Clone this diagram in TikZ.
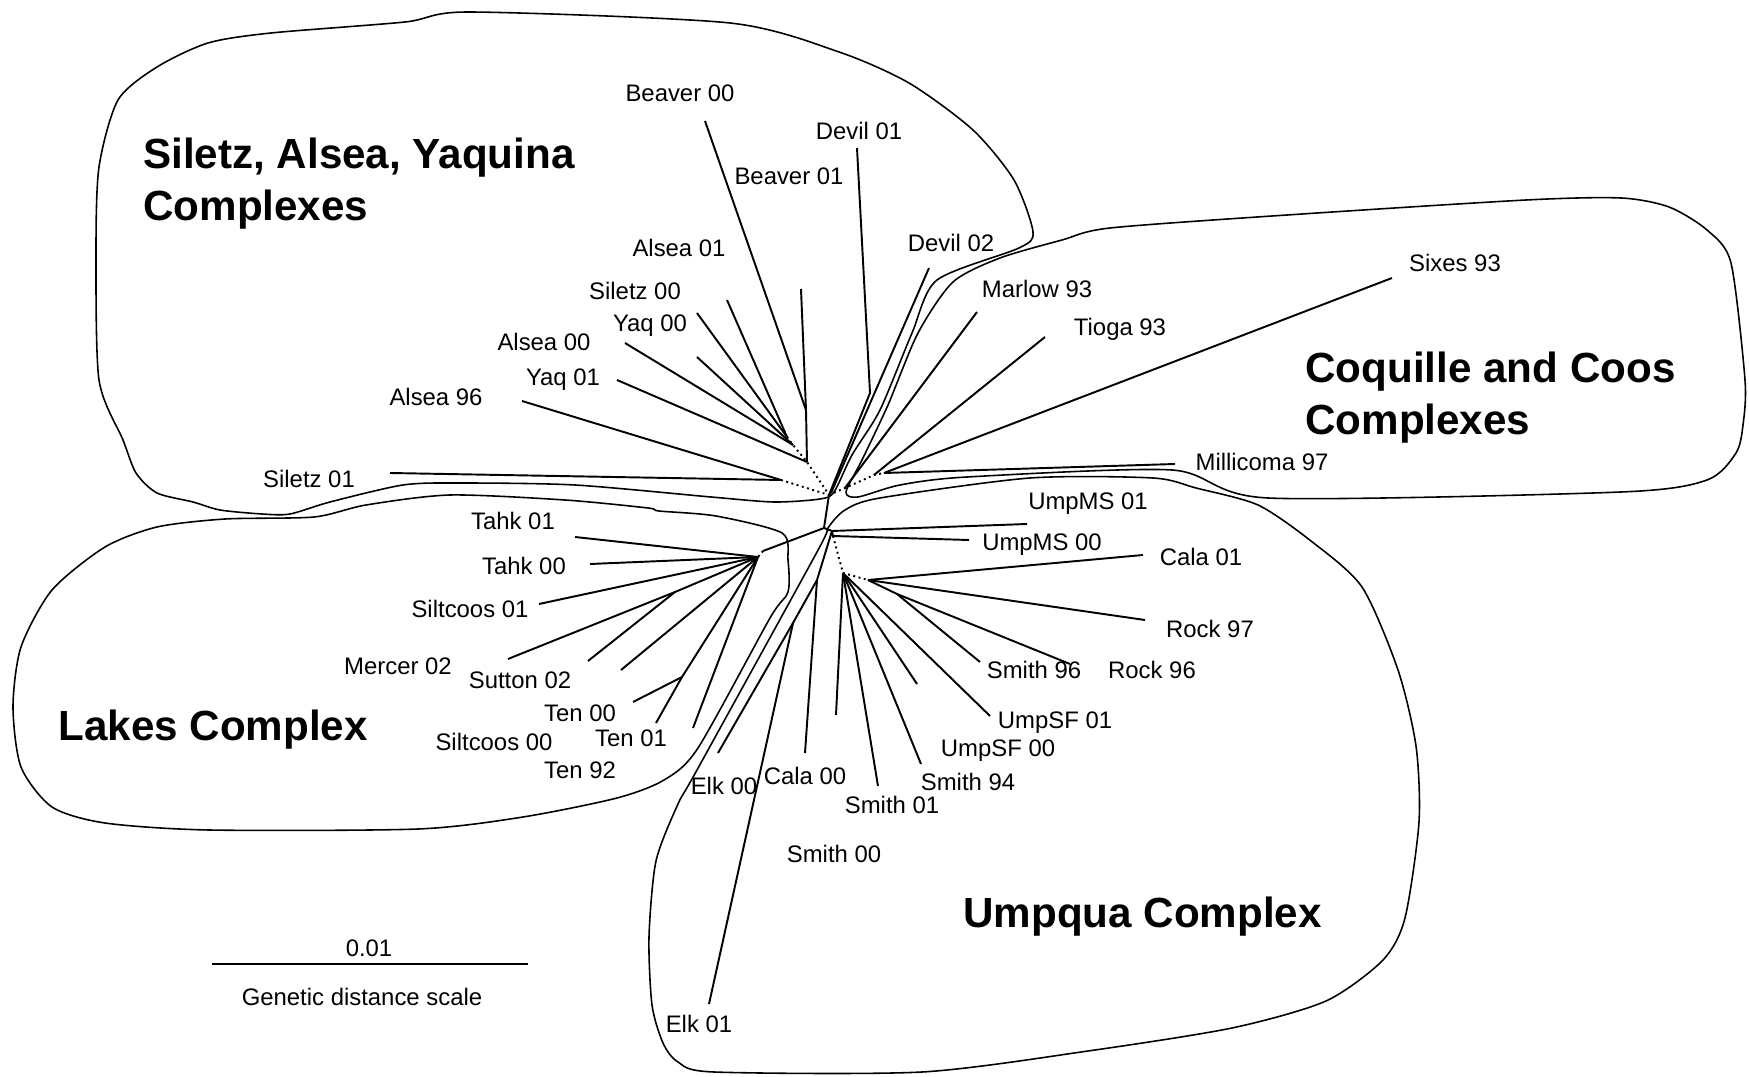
\documentclass[tikz,border=0pt]{standalone}
\usepackage{fontspec}
\setmainfont{Liberation Sans}
\usetikzlibrary{positioning}

\begin{document}
\begin{tikzpicture}[x=0.02cm, y=-0.02cm]

	\tikzstyle{lbl}=[inner sep=0, text depth=0pt, font=\fontsize{13.6}{16}\selectfont];
	\tikzstyle{ttl}=[inner sep=0, anchor=west, align=left, font=\fontsize{24}{29.5}\selectfont\bfseries];
	\tikzstyle{brn}=[line width=1.1pt, line join=round];
	\tikzstyle{hid}=[line width=1.1pt, dotted];
	\tikzstyle{cpx}=[line width=0.9pt, line join=round];

	\useasboundingbox (0,0) rectangle (1749,1077);

	% complex outlines
	\draw [cpx] plot [smooth cycle, tension=0.45] coordinates {(834,492) (852,455) (880,410) (912,333) (937,280) (1019,248) (1033,232) (1014,180) (973,130) (909,83) (839,52) (730,23) (470,12) (405,22) (271,33) (208,43) (157,67) (118,100) (99,167) (96,253) (99,380) (123,440) (136,473) (157,493) (193,502) (220,510) (262,514) (290,514) (330,502) (403,485) (460,483) (575,485) (711,497) (774,502) (820,499)};
	\draw [cpx] plot [smooth cycle, tension=0.45] coordinates {(846,492) (862,460) (888,405) (918,333) (953,282) (1000,258) (1062,240) (1110,228) (1287,215) (1526,200) (1621,198) (1669,207) (1707,230) (1731,263) (1745,380) (1743,425) (1736,453) (1707,480) (1621,492) (1268,498) (1172,470) (967,477) (900,485) (858,497)};
	\draw [cpx] plot [smooth cycle, tension=0.45] coordinates {(828,528) (845,510) (880,498) (1030,478) (1153,478) (1196,488) (1258,505) (1311,541) (1362,587) (1398,670) (1416,746) (1419,822) (1405,918) (1383,960) (1326,1001) (1232,1028) (1088,1051) (922,1072) (714,1072) (678,1062) (663,1043) (652,1005) (649,937) (656,861) (678,804) (697,770) (817,552)};
	\draw [cpx] plot [smooth cycle, tension=0.45] coordinates {(782,533) (788,560) (788,592) (770,618) (698,748) (664,780) (617,798) (523,817) (418,829) (209,830) (105,823) (52,807) (21,767) (13,707) (21,647) (52,590) (105,547) (157,527) (225,519) (314,517) (366,505) (450,495) (565,500) (648,508) (659,511) (716,516)};

	\node (sil title) [ttl] at (143,184) {Siletz, Alsea, Yaquina\\Complexes};
	\node (coq title) [ttl] at (1305,398) {Coquille and Coos\\Complexes};
	\node (lak title) [ttl] at (58,730) {Lakes Complex};
	\node (ump title) [ttl] at (963,917) {Umpqua Complex};

	% inner nodes of the tree
	\coordinate (hub) at (829,495);
	\coordinate (sil a) at (787,437);
	\coordinate (sil a2) at (793,445);
	\coordinate (sil b) at (807,462);
	\coordinate (sil bv) at (806,410);
	\coordinate (sil c) at (781,480);
	\coordinate (dev bend) at (870,393);
	\coordinate (dev root) at (831,493);
	\coordinate (coq m) at (845,488);
	\coordinate (coq t) at (874,475);
	\coordinate (coq s) at (884,473);
	\coordinate (spine) at (824,528);
	\coordinate (ms) at (832,531);
	\coordinate (ms b) at (833,536);
	\coordinate (lak) at (763,551);
	\coordinate (lak b) at (758,557);
	\coordinate (lak ms) at (675,592);
	\coordinate (lak ten) at (682,677);
	\coordinate (elk a) at (817,580);
	\coordinate (elk b) at (793,623);
	\coordinate (smi) at (843,573);
	\coordinate (roc) at (868,580);
	\coordinate (roc b) at (897,594);

	% branch ends
	\coordinate (beaver 00 end) at (705,121);
	\coordinate (beaver 01 end) at (801,289);
	\coordinate (alsea 01 end) at (727,300);
	\coordinate (siletz 00 end) at (697,313);
	\coordinate (yaq 00 end) at (697,357);
	\coordinate (alsea 00 end) at (625,343);
	\coordinate (yaq 01 end) at (617,380);
	\coordinate (alsea 96 end) at (522,401);
	\coordinate (siletz 01 end) at (390,473);
	\coordinate (devil 01 end) at (857,148);
	\coordinate (devil 02 end) at (929,268);
	\coordinate (marlow 93 end) at (977,312);
	\coordinate (tioga 93 end) at (1045,337);
	\coordinate (sixes 93 end) at (1392,278);
	\coordinate (millicoma 97 end) at (1175,464);
	\coordinate (umpms 01 end) at (1027,524);
	\coordinate (umpms 00 end) at (969,540);
	\coordinate (cala 01 end) at (1143,555);
	\coordinate (rock 97 end) at (1145,620);
	\coordinate (rock 96 end) at (1070,664);
	\coordinate (smith 96 end) at (980,662);
	\coordinate (umpsf 01 end) at (990,716);
	\coordinate (umpsf 00 end) at (917,684);
	\coordinate (smith 94 end) at (921,764);
	\coordinate (smith 01 end) at (878,786);
	\coordinate (smith 00 end) at (836,715);
	\coordinate (cala 00 end) at (805,753);
	\coordinate (elk 00 end) at (718,753);
	\coordinate (elk 01 end) at (709,1004);
	\coordinate (tahk 01 end) at (575,537);
	\coordinate (tahk 00 end) at (590,564);
	\coordinate (siltcoos 01 end) at (539,604);
	\coordinate (mercer 02 end) at (508,659);
	\coordinate (sutton 02 end) at (588,661);
	\coordinate (siltcoos 00 end) at (621,670);
	\coordinate (ten 00 end) at (633,702);
	\coordinate (ten 01 end) at (656,723);
	\coordinate (ten 92 end) at (693,728);

	\draw [brn] (beaver 00 end) -- (sil bv);
	\draw [brn] (beaver 01 end) -- (sil bv) -- (sil b);
	\draw [brn] (alsea 01 end) -- (sil a);
	\draw [brn] (siletz 00 end) -- (sil a);
	\draw [brn] (yaq 00 end) -- (sil a2);
	\draw [brn] (alsea 00 end) -- (sil a2);
	\draw [brn] (yaq 01 end) -- (sil b);
	\draw [brn] (alsea 96 end) -- (sil c);
	\draw [brn] (siletz 01 end) -- (sil c);
	\draw [hid] (sil a) -- (sil a2) -- (sil b) -- (hub);
	\draw [hid] (sil c) -- (hub);

	\draw [brn] (devil 01 end) -- (dev bend) -- (hub);
	\draw [brn] (devil 02 end) -- (dev root);
	\draw [hid] (hub) -- (coq m) -- (coq t) -- (coq s);
	\draw [brn] (marlow 93 end) -- (coq m);
	\draw [brn] (tioga 93 end) -- (coq t);
	\draw [brn] (sixes 93 end) -- (coq s);
	\draw [brn] (millicoma 97 end) -- (coq s);

	\draw [brn] (hub) -- (spine) -- (ms) -- (ms b);
	\draw [brn] (spine) -- (lak);
	\draw [hid] (lak) -- (lak b);
	\draw [brn] (tahk 01 end) -- (lak b);
	\draw [brn] (tahk 00 end) -- (lak b);
	\draw [brn] (siltcoos 01 end) -- (lak b);
	\draw [brn] (lak b) -- (lak ms);
	\draw [brn] (mercer 02 end) -- (lak ms);
	\draw [brn] (sutton 02 end) -- (lak ms);
	\draw [brn] (siltcoos 00 end) -- (lak b);
	\draw [brn] (lak b) -- (lak ten);
	\draw [brn] (ten 00 end) -- (lak ten);
	\draw [brn] (ten 01 end) -- (lak ten);
	\draw [brn] (ten 92 end) -- (lak b);

	\draw [brn] (umpms 01 end) -- (ms);
	\draw [brn] (umpms 00 end) -- (ms b);
	\draw [brn] (ms) -- (elk a) -- (elk b) -- (elk 00 end);
	\draw [brn] (cala 00 end) -- (elk a);
	\draw [brn] (elk 01 end) -- (elk b);
	\draw [hid] (ms b) -- (smi) -- (roc);
	\draw [brn] (cala 01 end) -- (roc);
	\draw [brn] (rock 97 end) -- (roc);
	\draw [brn] (roc) -- (roc b) -- (rock 96 end);
	\draw [brn] (smith 96 end) -- (roc b);
	\draw [brn] (umpsf 01 end) -- (smi);
	\draw [brn] (umpsf 00 end) -- (smi);
	\draw [brn] (smith 94 end) -- (smi);
	\draw [brn] (smith 01 end) -- (smi);
	\draw [brn] (smith 00 end) -- (smi);

	% labels
	\node (beaver 00) [lbl] at (680,93) {Beaver 00};
	\node (devil 01) [lbl] at (859,131) {Devil 01};
	\node (beaver 01) [lbl] at (789,176) {Beaver 01};
	\node (devil 02) [lbl] at (951,243) {Devil 02};
	\node (alsea 01) [lbl] at (679,248) {Alsea 01};
	\node (siletz 00) [lbl] at (635,291) {Siletz 00};
	\node (yaq 00) [lbl] at (650,323) {Yaq 00};
	\node (alsea 00) [lbl] at (544,342) {Alsea 00};
	\node (yaq 01) [lbl] at (563,377) {Yaq 01};
	\node (alsea 96) [lbl] at (436,397) {Alsea 96};
	\node (siletz 01) [lbl] at (309,479) {Siletz 01};

	\node (marlow 93) [lbl] at (1037,289) {Marlow 93};
	\node (tioga 93) [lbl] at (1120,327) {Tioga 93};
	\node (sixes 93) [lbl] at (1455,263) {Sixes 93};
	\node (millicoma 97) [lbl] at (1262,462) {Millicoma 97};

	\node (umpms 01) [lbl] at (1088,501) {UmpMS 01};
	\node (umpms 00) [lbl] at (1042,542) {UmpMS 00};
	\node (cala 01) [lbl] at (1201,557) {Cala 01};
	\node (rock 97) [lbl] at (1210,629) {Rock 97};
	\node (smith 96) [lbl] at (1034,670) {Smith 96};
	\node (rock 96) [lbl] at (1152,670) {Rock 96};
	\node (umpsf 01) [lbl] at (1055,720) {UmpSF 01};
	\node (umpsf 00) [lbl] at (998,748) {UmpSF 00};
	\node (smith 94) [lbl] at (968,782) {Smith 94};
	\node (smith 01) [lbl] at (892,805) {Smith 01};
	\node (cala 00) [lbl] at (805,776) {Cala 00};
	\node (elk 00) [lbl] at (724,786) {Elk 00};
	\node (smith 00) [lbl] at (834,854) {Smith 00};
	\node (elk 01) [lbl] at (699,1024) {Elk 01};

	\node (tahk 01) [lbl] at (513,521) {Tahk 01};
	\node (tahk 00) [lbl] at (524,566) {Tahk 00};
	\node (siltcoos 01) [lbl] at (470,609) {Siltcoos 01};
	\node (mercer 02) [lbl] at (398,666) {Mercer 02};
	\node (sutton 02) [lbl] at (520,680) {Sutton 02};
	\node (ten 00) [lbl] at (580,713) {Ten 00};
	\node (ten 01) [lbl] at (631,738) {Ten 01};
	\node (siltcoos 00) [lbl] at (494,742) {Siltcoos 00};
	\node (ten 92) [lbl] at (580,770) {Ten 92};

	% scale bar
	\coordinate (bar l) at (212,964);
	\coordinate (bar r) at (528,964);
	\draw [brn] (bar l) -- (bar r);
	\node (bar val) [lbl] at (369,948) {0.01};
	\node (bar cap) [lbl] at (362,997) {Genetic distance scale};

\end{tikzpicture}
\end{document}
